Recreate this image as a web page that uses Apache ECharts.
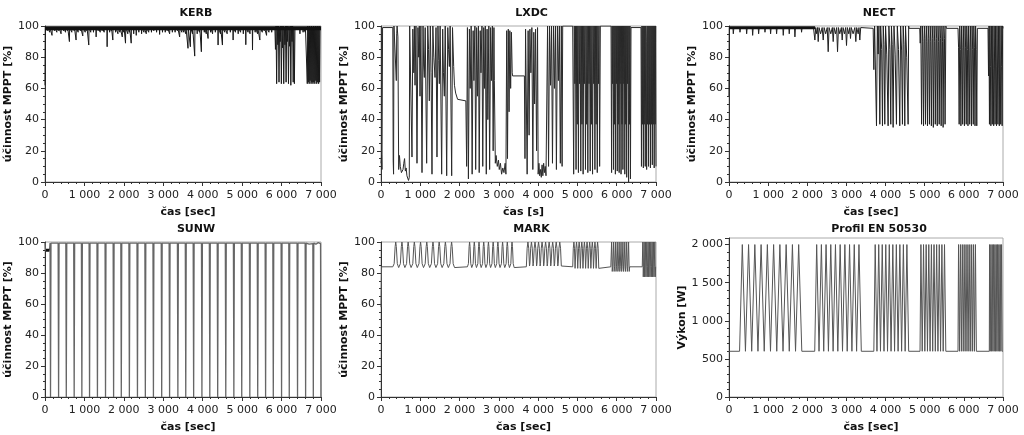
<!DOCTYPE html>
<html>
<head>
<meta charset="utf-8">
<script src="https://cdn.jsdelivr.net/npm/echarts@6/dist/echarts.min.js"></script>
<style>
  html, body { margin: 0; padding: 0; background: #fff; }
  #chart { width: 1024px; height: 435px; }
</style>
</head>
<body>
<div id="chart"></div>
<script>
// panel titles and axis names
var titles = ['KERB', 'LXDC', 'NECT', 'SUNW', 'MARK', 'Profil EN 50530'];
var xNames = ['čas [sec]', 'čas [s]', 'čas [sec]', 'čas [sec]', 'čas [sec]', 'čas [sec]'];
var yNames = ['účinnost MPPT [%]', 'účinnost MPPT [%]', 'účinnost MPPT [%]', 'účinnost MPPT [%]', 'účinnost MPPT [%]', 'Výkon [W]'];
var xTicks = [0, 1000, 2000, 3000, 4000, 5000, 6000, 7000];
var effTicks = [0, 20, 40, 60, 80, 100];
var powTicks = [0, 500, 1000, 1500, 2000];

// [t, value]
var kerbBand = [[0, 98.6], [7000, 98.6]];
var kerbData = [[0,62],[10,99],
  [54,99],[60,97],[66,99],[114,99],[120,96],[126,99],[172,99],[178,94],[184,99],[234,99],[240,97],[246,99],[294,99],[300,96],[306,99],
  [344,99],[350,97],[356,99],[401,99],[407,95],[413,99],[464,99],[470,97],[476,99],[514,99],[520,96],[526,99],[564,99],[570,97],[576,99],
  [613,99],[619,90],[625,99],[674,99],[680,96],[686,99],[734,99],[740,97],[746,99],[782,99],[788,91],[794,99],[834,99],[840,96],[846,99],
  [894,99],[900,97],[906,99],[952,99],[958,93.6],[964,99],[1014,99],[1020,96],[1026,99],[1054,99],[1060,97],[1066,99],[1104,99],[1110,87.8],[1116,99],
  [1154,99],[1160,96],[1166,99],[1224,99],[1230,96],[1236,99],[1291,99],[1297,93],[1303,99],[1344,99],[1350,97],[1356,99],[1394,99],[1400,96],[1406,99],
  [1444,99],[1450,97],[1456,99],[1494,99],[1500,96],[1506,99],[1570,99],[1576,86.7],[1582,99],[1634,99],[1640,96],[1646,99],[1674,99],[1680,97],[1686,99],
  [1714,99],[1720,91],[1726,99],[1784,99],[1790,96],[1796,99],[1844,99],[1850,95],[1856,99],[1894,99],[1900,96],[1906,99],[1954,99],[1960,93],[1966,99],
  [1994,99],[2000,96],[2006,99],[2036,99],[2042,89],[2048,99],[2094,99],[2100,95],[2106,99],[2134,99],[2140,96],[2146,99],[2180,99],[2186,89],[2192,99],
  [2244,99],[2250,95],[2256,99],[2308,99],[2314,94],[2320,99],[2374,99],[2380,96],[2386,99],[2444,99],[2450,95],[2456,99],[2504,99],[2510,96],[2516,99],
  [2562,99],[2568,95],[2574,99],[2624,99],[2630,96],[2636,99],[2694,99],[2700,96],[2706,99],[2754,99],[2760,97],[2766,99],[2824,99],[2830,96],[2836,99],
  [2901,99],[2907,94.6],[2913,99],[2974,99],[2980,96],[2986,99],[3044,99],[3050,96],[3056,99],[3094,99],[3100,97],[3106,99],[3155,99],[3161,95],[3167,99],
  [3224,99],[3230,96],[3236,99],[3294,99],[3300,96],[3306,99],[3354,99],[3360,97],[3366,99],[3409,99],[3415,93],[3421,99],[3464,99],[3470,96],[3476,99],
  [3514,99],[3520,96],[3526,99],[3564,99],[3570,95],[3576,99],[3621,99],[3627,85.7],[3633,99],[3681,99],[3687,86.7],[3693,99],[3734,99],[3740,95],[3746,99],
  [3791,99],[3797,80.7],[3803,99],[3854,99],[3860,95],[3866,99],[3914,99],[3920,96],[3926,99],[3960,99],[3966,83.5],[3972,99],[4034,99],[4040,96],[4046,99],
  [4084,99],[4090,95],[4096,99],[4130,99],[4136,92],[4142,99],[4194,99],[4200,96],[4206,99],[4244,99],[4250,95],[4256,99],[4314,99],[4320,96],[4326,99],
  [4384,99],[4390,87.8],[4396,99],[4444,99],[4450,95],[4456,99],[4494,99],[4500,87.8],[4506,99],[4554,99],[4560,96],[4566,99],[4614,99],[4620,95],[4626,99],
  [4694,99],[4700,96],[4706,99],[4765,99],[4771,91],[4777,99],[4824,99],[4830,96],[4836,99],[4894,99],[4900,95],[4906,99],[4954,99],[4960,96],[4966,99],
  [5024,99],[5030,95],[5036,99],[5087,99],[5093,88],[5099,99],[5144,99],[5150,96],[5156,99],[5194,99],[5200,95],[5206,99],[5257,99],[5263,84.6],[5269,99],
  [5324,99],[5330,96],[5336,99],[5384,99],[5390,95],[5396,99],[5443,99],[5449,91],[5455,99],[5504,99],[5510,96],[5516,99],[5554,99],[5560,97],[5566,99],
  [5613,99],[5619,94],[5625,99],[5674,99],[5680,96],[5686,99],[5744,99],[5750,96],[5756,99],
  [5830,99],[5845,85],[5860,100],[5875,63],[5890,100],[5905,88],[5920,100],[5935,64],[5950,99],[5965,90],[5980,100],[5995,63],[6010,100],[6025,86],[6040,100],[6055,63],[6070,99],[6085,88],[6100,100],[6115,64],[6130,100],[6145,90],[6160,100],[6175,63],[6190,99],[6205,87],[6220,100],[6235,62],[6250,100],[6265,90],[6280,100],[6295,64],[6310,99],[6325,63],[6340,99],
  [6460,99],[6466,95],[6472,99],[6540,99],[6546,96],[6552,99],[6594,99],[6600,96],[6606,99],
  [6640,99],[6652,63],[6664,100],[6676,64],[6688,99],[6700,63],[6712,100],[6724,65],[6736,99],[6748,63],[6760,100],[6772,64],[6784,99],[6796,63],[6808,100],[6820,64],[6832,99],[6844,63],[6856,100],[6868,65],[6880,99],[6892,63],[6904,100],[6916,64],[6928,99],[6940,63],[6952,100],[6964,64],[6976,99],[7000,99]];

var lxdcData = [[0,12],[15,17],[25,8],[40,99],[300,99],[310,14],[320,5],[330,100],[360,100],[390,65],[400,95],[410,100],[430,93],[450,8],[470,17],[490,10],[520,6],[540,5],[560,8],[580,12],[600,15],[620,7],[640,9],[660,4],[680,5],[700,1],[720,3],[730,100],
  [760,100],[789,16],[810,98],[835,70],[850,100],[866,62],[890,100],[916,12],[940,99],[960,80],[975,100],[993,55],[1015,100],[1044,6],[1070,100],[1085,75],[1103,67],[1125,99],[1162,12],[1190,100],[1210,85],[1230,52],[1255,100],[1275,70],[1298,5],[1320,100],[1345,80],[1375,67],[1400,99],[1425,16],[1450,100],[1470,78],[1485,63],[1505,100],[1544,5],[1570,98],[1590,70],[1612,55],[1635,100],[1672,4],[1700,99],[1720,85],[1740,74],[1760,100],[1799,4],[1820,99],[1850,74],[1870,62],[1900,57],[1950,53],[2000,52],[2160,52],
  [2180,10],[2200,99],[2225,2],[2250,98],[2270,60],[2295,100],[2320,5],[2345,97],[2365,65],[2390,100],[2410,8],[2435,99],[2455,55],[2480,100],[2500,6],[2525,97],[2545,70],[2570,100],[2590,10],[2615,99],[2635,60],[2655,100],[2680,5],[2700,98],[2720,40],[2745,100],[2765,8],[2790,99],[2810,65],[2835,100],[2855,20],[2875,99],[2885,65],
  [2910,12],[2930,17],[2960,10],[2990,14],[3010,8],[3040,12],[3070,5],[3100,9],[3130,6],[3160,12],[3180,5],
  [3200,97],[3220,15],[3240,98],[3260,45],[3280,97],[3300,60],[3320,96],[3340,70],[3350,68],[3650,68],
  [3665,15],[3680,98],[3700,99],[3720,5],[3745,97],[3770,30],[3790,98],[3815,70],[3840,99],[3865,8],[3890,96],[3910,50],[3935,98],[3960,20],[3985,99],
  [4000,5],[4020,12],[4040,4],[4060,8],[4080,3],[4100,11],[4120,4],[4140,12],[4160,6],[4180,10],[4200,4],
  [4240,100],[4265,10],[4290,100],[4315,62],[4340,100],[4365,12],[4390,100],[4415,60],[4440,100],[4465,8],[4490,100],[4515,65],[4540,100],[4565,12],[4590,100],[4610,10],[4625,100],[4880,100],
  [4904,5],[4920,100],[4935,63],[4950,100],[4965,8],[4980,100],[4995,37],[5010,100],[5025,6],[5040,100],[5055,63],[5070,100],[5085,7],[5100,100],[5115,37],[5130,100],[5145,5],[5160,100],[5175,63],[5190,100],[5205,8],[5220,100],[5235,37],[5250,100],[5265,6],[5280,100],[5295,63],[5310,100],[5325,7],[5340,100],[5355,37],[5370,100],[5385,5],[5400,100],[5415,63],[5430,100],[5445,8],[5460,100],[5475,37],[5490,100],[5505,6],[5520,100],[5535,63],[5550,100],[5565,10],[5583,100],[5855,100],
  [5870,6],[5882,100],[5894,63],[5906,100],[5918,8],[5930,100],[5942,37],[5954,100],[5966,5],[5978,100],[5990,63],[6002,100],[6014,7],[6026,100],[6038,37],[6050,100],[6062,6],[6074,100],[6086,63],[6098,100],[6110,5],[6122,100],[6134,37],[6146,100],[6158,8],[6170,100],[6182,63],[6194,100],[6206,5],[6218,100],[6230,37],[6242,100],[6254,3],[6266,100],[6278,63],[6290,100],[6302,0],[6314,100],[6326,37],[6338,100],[6350,2],[6364,99],[6618,99],
  [6630,10],[6642,100],[6654,37],[6666,100],[6678,9],[6690,100],[6702,37],[6714,100],[6726,10],[6738,100],[6750,90],[6762,8],[6774,100],[6786,37],[6798,100],[6810,10],[6822,100],[6834,37],[6846,100],[6858,9],[6870,100],[6882,37],[6894,100],[6906,11],[6918,100],[6930,37],[6942,100],[6954,9],[6966,100],[6978,37],[6990,100],[7000,10]];

var nectBand = [[0, 98.8], [2200, 98.8]];
var nectData = [[0,55],[10,99],[100,99],[110,95],[125,99],[270,99],[281,96],[295,99],[440,99],[451,95],[465,99],[593,99],[604,94],[618,99],[746,99],[757,95],[771,99],[908,99],[919,96],[933,99],[1052,99],[1063,95],[1077,99],[1205,99],[1216,95],[1230,99],[1375,99],[1386,94],[1400,99],[1528,99],[1539,95],[1553,99],[1673,99],[1684,93],[1698,99],[1843,99],[1854,96],[1868,99],[2160,98.5],
  [2175,99],[2194,91],[2215,99],[2240,95],[2260,99],[2279,90],[2300,99],[2340,95],[2380,99],[2407,91],[2430,99],[2470,95],[2510,99],[2534,83.5],[2556,99],[2600,95],[2640,99],[2662,90],[2684,99],[2720,95],[2750,99],[2773,83.5],[2796,99],[2830,95],[2870,99],[2892,91],[2914,99],[2950,95],[2980,99],[3002,87.5],[3024,99],[3060,95],[3085,99],[3104,92],[3125,99],[3170,95],[3215,99],[3240,90],[3262,99],[3300,95],[3320,99],[3342,91],[3365,99],[3385,98.5],[3683,98.5],
  [3700,72],[3720,100],[3768,36],[3790,100],[3810,82],[3830,100],[3853,37],[3875,100],[3900,85],[3921,36],[3940,100],[3960,88],[3980,37],[4000,100],[4030,82],[4065,36],[4085,100],[4110,85],[4133,37],[4150,100],[4170,88],[4193,35],[4215,100],[4245,82],[4278,37],[4300,100],[4330,85],[4363,36],[4385,100],[4410,84],[4431,37],[4450,100],[4470,88],[4491,36],[4510,100],[4540,80],[4576,37],[4590,100],[4601,98.5],
  [4873,98.5],[4885,89],[4900,100],[4920,37],[4940,100],[4955,90],[4970,36],[4990,100],[5005,92],[5020,37],[5040,100],[5055,90],[5070,36],[5090,100],[5105,92],[5120,37],[5140,100],[5155,90],[5170,36],[5190,100],[5205,92],[5220,35],[5240,100],[5255,90],[5270,37],[5290,100],[5305,92],[5320,36],[5340,100],[5355,90],[5370,37],[5390,100],[5405,92],[5420,36],[5440,100],[5455,90],[5470,35],[5490,100],[5505,92],[5520,37],[5540,100],[5554,98.5],
  [5851,98.5],[5865,86],[5880,37],[5895,100],[5910,85],[5925,36],[5940,100],[5955,86],[5970,37],[5985,100],[6000,84],[6015,36],[6030,100],[6045,86],[6060,37],[6075,100],[6090,85],[6105,36],[6120,100],[6135,84],[6150,37],[6165,100],[6180,86],[6195,36],[6210,100],[6225,85],[6240,37],[6255,100],[6270,86],[6285,36],[6300,100],[6315,85],[6330,36],[6345,98.5],
  [6617,98.5],[6630,68],[6642,100],[6654,37],[6666,100],[6678,74],[6690,36],[6702,100],[6714,75],[6726,37],[6738,100],[6750,73],[6762,36],[6774,100],[6786,75],[6798,37],[6810,100],[6822,74],[6834,36],[6846,100],[6858,75],[6870,37],[6882,100],[6894,73],[6906,36],[6918,100],[6930,75],[6942,37],[6954,100],[6966,74],[6978,36],[6990,100],[7000,98.5]];

var sunwStart = [[25, 94.6], [110, 94.6]];
var sunwData = [[0,99.5],[8,95],[115,95],[128,99.3],[140,0],[152,99.3],
  [333,99.3],[345,0],[357,99.3],[528,99.3],[540,0],[552,99.3],[728,99.3],[740,0],[752,99.3],[923,99.3],[935,0],[947,99.3],
  [1118,99.3],[1130,0],[1142,99.3],[1318,99.3],[1330,0],[1342,99.3],[1523,99.3],[1535,0],[1547,99.3],[1728,99.3],[1740,0],[1752,99.3],[1923,99.3],[1935,0],[1947,99.3],
  [2128,99.3],[2140,0],[2152,99.3],[2333,99.3],[2345,0],[2357,99.3],[2533,99.3],[2545,0],[2557,99.3],[2738,99.3],[2750,0],[2762,99.3],[2948,99.3],[2960,0],[2972,99.3],
  [3148,99.3],[3160,0],[3172,99.3],[3358,99.3],[3370,0],[3382,99.3],[3558,99.3],[3570,0],[3582,99.3],[3758,99.3],[3770,0],[3782,99.3],[3968,99.3],[3980,0],[3992,99.3],
  [4168,99.3],[4180,0],[4192,99.3],[4368,99.3],[4380,0],[4392,99.3],[4573,99.3],[4585,0],[4597,99.3],[4778,99.3],[4790,0],[4802,99.3],[4978,99.3],[4990,0],[5002,99.3],
  [5183,99.3],[5195,0],[5207,99.3],[5383,99.3],[5395,0],[5407,99.3],[5583,99.3],[5595,0],[5607,99.3],[5778,99.3],[5790,0],[5802,99.3],[5988,99.3],[6000,0],[6012,99.3],
  [6183,99.3],[6195,0],[6207,99.3],[6393,99.3],[6405,0],[6417,99.3],[6598,99.3],[6610,0],[6622,99.3],[6700,98.6],[6750,99.6],[6793,99],[6805,0],[6817,99.3],[6870,98.6],[6930,99.6],[6988,99],[7000,0]];

var markData = [[0,58],[15,84],
  [300,84],[335,86],[360,97],[375,100],[390,97],[415,86],[450,83.5],[458,84],[493,86],[518,97],[533,100],[548,97],[573,86],[608,83.5],
  [616,84],[651,86],[676,97],[691,100],[706,97],[731,86],[766,83.5],[774,84],[809,86],[834,97],[849,100],[864,97],[889,86],[924,83.5],
  [932,84],[967,86],[992,97],[1007,100],[1022,97],[1047,86],[1082,83.5],[1090,84],[1125,86],[1150,97],[1165,100],[1180,97],[1205,86],[1240,83.5],
  [1248,84],[1283,86],[1308,97],[1323,100],[1338,97],[1363,86],[1398,83.5],[1406,84],[1441,86],[1466,97],[1481,100],[1496,97],[1521,86],[1556,83.5],
  [1564,84],[1599,86],[1624,97],[1639,100],[1654,97],[1679,86],[1714,83.5],[1722,84],[1757,86],[1782,97],[1797,100],[1812,97],[1837,86],[1872,83.5],[1880,84],
  [2200,84],[2225,86],[2243,97],[2255,100],[2267,97],[2285,86],[2310,83.5],[2320,84],[2345,86],[2363,97],[2375,100],[2387,97],[2405,86],[2430,83.5],
  [2440,84],[2465,86],[2483,97],[2495,100],[2507,97],[2525,86],[2550,83.5],[2560,84],[2585,86],[2603,97],[2615,100],[2627,97],[2645,86],[2670,83.5],
  [2680,84],[2705,86],[2723,97],[2735,100],[2747,97],[2765,86],[2790,83.5],[2800,84],[2825,86],[2843,97],[2855,100],[2867,97],[2885,86],[2910,83.5],
  [2920,84],[2945,86],[2963,97],[2975,100],[2987,97],[3005,86],[3030,83.5],[3040,84],[3065,86],[3083,97],[3095,100],[3107,97],[3125,86],[3150,83.5],
  [3160,84],[3185,86],[3203,97],[3215,100],[3227,97],[3245,86],[3270,83.5],[3280,84],[3305,86],[3323,97],[3335,100],[3347,97],[3365,86],[3390,83.5],[3400,84],
  [3700,84],[3720,96],[3740,100],[3760,96],[3780,84.5],[3790,86],[3810,96],[3830,100],[3850,96],[3870,84.5],[3880,86],[3900,96],[3920,100],[3940,96],[3960,84.5],
  [3970,86],[3990,96],[4010,100],[4030,96],[4050,84.5],[4060,86],[4080,96],[4100,100],[4120,96],[4140,84.5],[4150,86],[4170,96],[4190,100],[4210,96],[4230,84.5],
  [4240,86],[4260,96],[4280,100],[4300,96],[4320,84.5],[4330,86],[4350,96],[4370,100],[4390,96],[4410,84.5],[4420,86],[4440,96],[4460,100],[4480,96],[4500,84.5],
  [4510,86],[4530,96],[4550,100],[4570,96],[4590,84.5],[4600,84],[4880,84],
  [4895,96],[4910,100],[4925,96],[4940,83],[4947,84],[4962,96],[4977,100],[4992,96],[5007,83],[5014,84],[5029,96],[5044,100],[5059,96],[5074,83],
  [5081,84],[5096,96],[5111,100],[5126,96],[5141,83],[5148,84],[5163,96],[5178,100],[5193,96],[5208,83],[5215,84],[5230,96],[5245,100],[5260,96],[5275,83],
  [5282,84],[5297,96],[5312,100],[5327,96],[5342,83],[5349,84],[5364,96],[5379,100],[5394,96],[5409,83],[5416,84],[5431,96],[5446,100],[5461,96],[5476,83],
  [5483,84],[5498,96],[5513,100],[5528,96],[5543,83],[5550,84],[5850,84],
  [5870,100],[5886,81],[5898,84],[5918,100],[5934,81],[5946,84],[5966,100],[5982,81],[5994,84],[6014,100],[6030,81],[6042,84],[6062,100],[6078,81],
  [6090,84],[6110,100],[6126,81],[6138,84],[6158,100],[6174,81],[6186,84],[6206,100],[6222,81],[6234,84],[6254,100],[6270,81],[6282,84],[6302,100],[6318,81],[6330,84],[6650,84],
  [6664,100],[6676,77.5],[6684,84],[6698,100],[6710,77.5],[6718,84],[6732,100],[6744,77.5],[6752,84],[6766,100],[6778,77.5],[6786,84],[6800,100],[6812,77.5],
  [6820,84],[6834,100],[6846,77.5],[6854,84],[6868,100],[6880,77.5],[6888,84],[6902,100],[6914,77.5],[6922,84],[6936,100],[6948,77.5],[6956,84],[6970,100],[6982,77.5],[6990,84],[7000,84]];

var profilData = [[0,600],
  [270,600],[340,2000],[350,2000],[420,600],[430,600],[500,2000],[510,2000],[580,600],[590,600],[660,2000],[670,2000],[740,600],
  [750,600],[820,2000],[830,2000],[900,600],[910,600],[980,2000],[990,2000],[1060,600],[1070,600],[1140,2000],[1150,2000],[1220,600],
  [1230,600],[1300,2000],[1310,2000],[1380,600],[1390,600],[1460,2000],[1470,2000],[1540,600],[1550,600],[1620,2000],[1630,2000],[1700,600],
  [1710,600],[1780,2000],[1790,2000],[1860,600],
  [2190,600],[2240,2000],[2250,2000],[2300,600],[2310,600],[2360,2000],[2370,2000],[2420,600],[2430,600],[2480,2000],[2490,2000],[2540,600],
  [2550,600],[2600,2000],[2610,2000],[2660,600],[2670,600],[2720,2000],[2730,2000],[2780,600],[2790,600],[2840,2000],[2850,2000],[2900,600],
  [2910,600],[2960,2000],[2970,2000],[3020,600],[3030,600],[3080,2000],[3090,2000],[3140,600],[3150,600],[3200,2000],[3210,2000],[3260,600],
  [3270,600],[3320,2000],[3330,2000],[3380,600],
  [3700,600],[3735,2000],[3745,2000],[3780,600],[3790,600],[3825,2000],[3835,2000],[3870,600],[3880,600],[3915,2000],[3925,2000],[3960,600],
  [3970,600],[4005,2000],[4015,2000],[4050,600],[4060,600],[4095,2000],[4105,2000],[4140,600],[4150,600],[4185,2000],[4195,2000],[4230,600],
  [4240,600],[4275,2000],[4285,2000],[4320,600],[4330,600],[4365,2000],[4375,2000],[4410,600],[4420,600],[4455,2000],[4465,2000],[4500,600],
  [4510,600],[4545,2000],[4555,2000],[4590,600],
  [4880,600],[4903,2000],[4913,2000],[4936,600],[4947,600],[4970,2000],[4980,2000],[5003,600],[5014,600],[5037,2000],[5047,2000],[5070,600],
  [5081,600],[5104,2000],[5114,2000],[5137,600],[5148,600],[5171,2000],[5181,2000],[5204,600],[5215,600],[5238,2000],[5248,2000],[5271,600],
  [5282,600],[5305,2000],[5315,2000],[5338,600],[5349,600],[5372,2000],[5382,2000],[5405,600],[5416,600],[5439,2000],[5449,2000],[5472,600],
  [5483,600],[5506,2000],[5516,2000],[5539,600],
  [5850,600],[5864,2000],[5874,2000],[5888,600],[5898,600],[5912,2000],[5922,2000],[5936,600],[5946,600],[5960,2000],[5970,2000],[5984,600],
  [5994,600],[6008,2000],[6018,2000],[6032,600],[6042,600],[6056,2000],[6066,2000],[6080,600],[6090,600],[6104,2000],[6114,2000],[6128,600],
  [6138,600],[6152,2000],[6162,2000],[6176,600],[6186,600],[6200,2000],[6210,2000],[6224,600],[6234,600],[6248,2000],[6258,2000],[6272,600],
  [6282,600],[6296,2000],[6306,2000],[6320,600],
  [6650,600],[6657,2000],[6667,2000],[6674,600],[6684,600],[6691,2000],[6701,2000],[6708,600],[6718,600],[6725,2000],[6735,2000],[6742,600],
  [6752,600],[6759,2000],[6769,2000],[6776,600],[6786,600],[6793,2000],[6803,2000],[6810,600],[6820,600],[6827,2000],[6837,2000],[6844,600],
  [6854,600],[6861,2000],[6871,2000],[6878,600],[6888,600],[6895,2000],[6905,2000],[6912,600],[6922,600],[6929,2000],[6939,2000],[6946,600],
  [6956,600],[6963,2000],[6973,2000],[6980,600],[7000,600]];

var chart = echarts.init(document.getElementById('chart'));
var FONT = 'DejaVu Sans';

function spaced(v) {
    if (v >= 1000) {
        return Math.floor(v / 1000) + ' ' + String(v % 1000).padStart(3, '0');
    }
    return String(v);
}

function tickLabel(v) {
    if (powTicks.indexOf(v) >= 0 || effTicks.indexOf(v) >= 0) return spaced(v);
    return '';
}

var grids = [
    {left: 45, top: 26, width: 276, height: 156},
    {left: 381, top: 26, width: 275, height: 156},
    {left: 729, top: 26, width: 274, height: 156},
    {left: 45, top: 242, width: 276, height: 155},
    {left: 381, top: 242, width: 275, height: 155},
    {left: 729, top: 238, width: 274, height: 159}
];

var xAxes = [], yAxes = [], titleList = [];
for (var i = 0; i < 6; i++) {
    var g = grids[i];
    g.show = true;
    g.borderColor = '#aaa';
    g.borderWidth = 1;
    titleList.push({
        text: titles[i],
        left: g.left + g.width / 2 + 8,
        top: i < 3 ? 3 : 219,
        textAlign: 'center',
        textStyle: {fontFamily: FONT, fontSize: 11, fontWeight: 'bold', color: '#111'}
    });
    xAxes.push({
        type: 'value', gridIndex: i, min: xTicks[0], max: xTicks[xTicks.length - 1], interval: 1000,
        name: xNames[i], nameLocation: 'middle', nameGap: 25,
        nameTextStyle: {fontFamily: FONT, fontSize: 11, fontWeight: 'bold', color: '#111', padding: [0, 0, 0, 10]},
        axisLine: {show: true, onZero: false, lineStyle: {color: '#333'}},
        axisTick: {show: true, length: 4, lineStyle: {color: '#333'}},
        minorTick: {show: true, splitNumber: 5, length: 2, lineStyle: {color: '#333'}},
        splitLine: {show: false},
        axisLabel: {fontFamily: FONT, fontSize: 11, color: '#222', margin: 8, formatter: spaced}
    });
    var isPow = i === 5;
    yAxes.push({
        type: 'value', gridIndex: i, min: 0,
        max: isPow ? 2086 : effTicks[effTicks.length - 1],
        interval: isPow ? 500 : 20,
        name: yNames[i], nameLocation: 'middle', nameGap: isPow ? 40 : 30,
        nameTextStyle: {fontFamily: FONT, fontSize: 11, fontWeight: 'bold', color: '#111'},
        axisLine: {show: true, onZero: false, lineStyle: {color: '#333'}},
        axisTick: {show: true, length: 4, lineStyle: {color: '#333'}},
        minorTick: {show: true, splitNumber: isPow ? 5 : 4, length: 2, lineStyle: {color: '#333'}},
        splitLine: {show: false},
        axisLabel: {fontFamily: FONT, fontSize: 11, color: '#222', margin: 6, showMaxLabel: !isPow, formatter: tickLabel}
    });
}

function line(idx, data, color, width) {
    return {
        type: 'line', xAxisIndex: idx, yAxisIndex: idx, data: data,
        symbol: 'none', silent: true, animation: false,
        lineStyle: {color: color, width: width}
    };
}

var option = {
    animation: false,
    title: titleList,
    grid: grids,
    xAxis: xAxes,
    yAxis: yAxes,
    series: [
        line(0, kerbData, '#1a1a1a', 1),
        line(0, kerbBand, '#111', 4),
        line(1, lxdcData, '#2a2a2a', 1),
        line(2, nectData, '#222', 1),
        line(2, nectBand, '#111', 3),
        line(3, sunwData, '#666', 1.3),
        line(3, sunwStart, '#111', 3),
        line(4, markData, '#555', 1),
        line(5, profilData, '#555', 1)
    ]
};
chart.setOption(option);
</script>
</body>
</html>
